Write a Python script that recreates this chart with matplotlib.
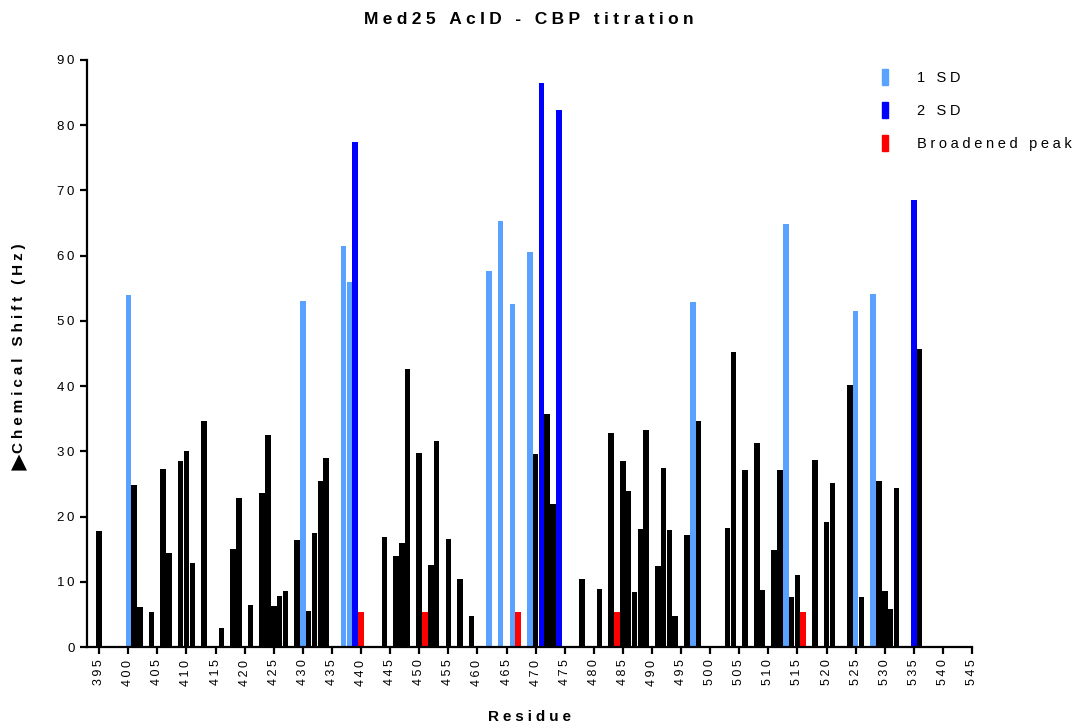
import matplotlib
matplotlib.use("Agg")
import matplotlib.pyplot as plt
from matplotlib.patches import Patch

plt.rcParams['font.family'] = ['Liberation Sans', 'DejaVu Sans']

# ---- data ----
black_res = [395, 401, 402, 404, 406, 407, 409, 410, 411, 413, 416, 418, 419, 421, 423, 424, 425, 426,
             427, 429, 431, 432, 433, 434, 444, 446, 447, 448, 450, 452, 453, 455, 457, 459, 470, 472,
             473, 478, 481, 483, 485, 486, 487, 488, 489, 491, 492, 493, 494, 496, 498, 503, 504, 506,
             508, 509, 511, 512, 514, 515, 518, 520, 521, 524, 526, 529, 530, 531, 532, 536]
black_val = [17.8, 24.8, 6.1, 5.4, 27.3, 14.4, 28.5, 30.1, 12.9, 34.7, 2.9, 15.1, 22.8, 6.5, 23.6, 32.5, 6.3, 7.8,
             8.6, 16.4, 5.5, 17.5, 25.4, 29.0, 16.8, 13.9, 15.9, 42.6, 29.8, 12.6, 31.6, 16.5, 10.4, 4.7, 29.6, 35.8,
             22.0, 10.4, 8.9, 32.8, 28.5, 23.9, 8.4, 18.1, 33.2, 12.4, 27.5, 17.9, 4.7, 17.2, 34.6, 18.2, 45.2, 27.2,
             31.3, 8.7, 14.9, 27.2, 7.6, 11.0, 28.6, 19.2, 25.2, 40.1, 7.7, 25.5, 8.6, 5.8, 24.4, 45.7]
sd1_res = [400, 430, 437, 438, 462, 464, 466, 469, 497, 513, 525, 528]
sd1_val = [54.0, 53.1, 61.5, 55.9, 57.6, 65.3, 52.6, 60.6, 52.9, 64.9, 51.5, 54.1]
sd2_res = [439, 471, 474, 535]
sd2_val = [77.4, 86.4, 82.4, 68.5]
broad_res = [440, 451, 467, 484, 516]
broad_val = [5.3, 5.3, 5.3, 5.3, 5.3]

x_ticks = list(range(395, 546, 5))
y_ticks = list(range(0, 91, 10))

title = "Med25 AcID - CBP titration"
xlabel = "Residue"
ylabel = "Chemical Shift (Hz)"
ylabel_sym = "\u25B2"
legend_labels = ["1 SD", "2 SD", "Broadened peak"]

C_SD1 = "#5aa2ff"
C_SD2 = "#0000ff"
C_BR = "#ff0000"

def sp(s, gap="\u2005"):
    return gap.join(s)

def sp_t(s):
    return "\u2009".join(s)

fig = plt.figure(figsize=(10.81, 7.26), dpi=100)
ax = fig.add_axes([87/1081, 1-647/726, (972-87)/1081, (647-60)/726])

w = 0.96
ax.bar(black_res, black_val, width=w, color="black", linewidth=0)
ax.bar(sd1_res, sd1_val, width=w, color=C_SD1, linewidth=0)
ax.bar(sd2_res, sd2_val, width=w, color=C_SD2, linewidth=0)
ax.bar(broad_res, broad_val, width=w, color=C_BR, linewidth=0)

ax.set_xlim(392.9, 545)
ax.set_ylim(0, 90)
ax.set_xticks(x_ticks)
ax.set_xticklabels([sp_t(str(t)) for t in x_ticks], rotation=90, fontsize=9)
ax.set_yticks(y_ticks)
ax.set_yticklabels([sp_t(str(t)) for t in y_ticks], fontsize=9.5)

for s in ["top", "right"]:
    ax.spines[s].set_visible(False)
for s in ["left", "bottom"]:
    ax.spines[s].set_linewidth(1.6)
ax.tick_params(axis="both", direction="out", length=5, width=1.6, pad=4)

fig.text(529/1081, 1-20/726, sp(title), ha="center", va="center", fontsize=12.5, fontweight="bold")
fig.text(529/1081, 1-717/726, sp(xlabel), ha="center", va="center", fontsize=11, fontweight="bold")
fig.text(19/1081, 1-348/726, sp(ylabel), ha="center", va="center", rotation=90, fontsize=11, fontweight="bold")
fig.text(19/1081, 1-462/726, ylabel_sym, ha="center", va="center", rotation=0, fontsize=15,
         family=["DejaVu Sans"])

handles = [Patch(color=C_SD1), Patch(color=C_SD2), Patch(color=C_BR)]
leg = fig.legend(handles, [sp(l) for l in legend_labels], loc="upper left",
                 bbox_to_anchor=(872/1081, 1-59/726), frameon=False, fontsize=10.5,
                 handlelength=0.42, handleheight=1.25, handletextpad=2.0, labelspacing=1.2,
                 borderpad=0.2)

fig.savefig("out.png", dpi=100)
